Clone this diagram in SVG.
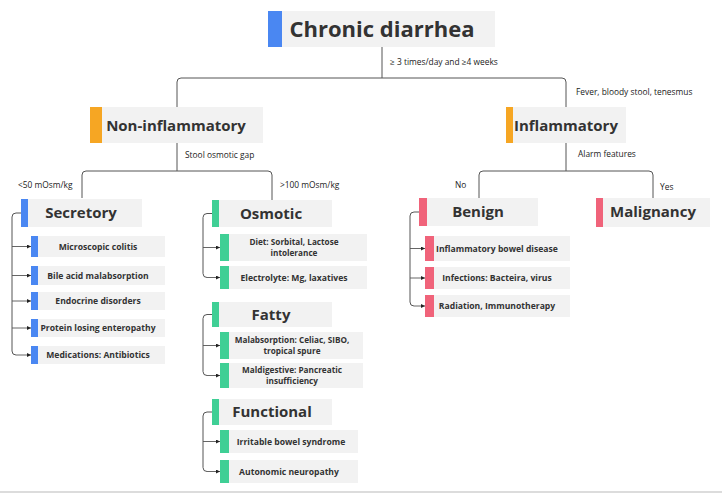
<svg xmlns="http://www.w3.org/2000/svg" width="722" height="493" viewBox="0 0 722 493">
<defs>
<style>
.box{fill:#f2f2f2}
.blue{fill:#4a87f2}
.orange{fill:#f6a623}
.green{fill:#3fcf95}
.pink{fill:#f0637a}
.t{font-family:"Open Sans","Noto Sans",sans-serif;font-weight:700;fill:#333;text-anchor:middle}
.h1{font-size:22px}
.h2{font-size:15px}
.h3{font-size:8.6px}
.h4{font-size:8.2px}
.lbl{font-family:"Open Sans","Noto Sans",sans-serif;font-size:8.4px;fill:#222}
.ln{fill:none;stroke:#555;stroke-width:1}
.ar{fill:none;stroke:#555;stroke-width:0.9;marker-end:url(#arr)}
</style>
<marker id="arr" viewBox="0 0 6 6" refX="6" refY="3" markerWidth="4" markerHeight="4" orient="auto" markerUnits="userSpaceOnUse">
<path d="M0,0 L6,3 L0,6 z" fill="#222"/>
</marker>
</defs>
<rect x="0" y="0" width="722" height="493" fill="#ffffff"/>
<rect x="0" y="491" width="722" height="2" fill="#dcdcdc"/>

<g id="connectors">
<path class="ln" d="M382,47 V78"/>
<path class="ln" d="M177,107 V82 Q177,78 181,78 H562 Q566,78 566,82 V107"/>
<path class="ln" d="M177,143 V171"/>
<path class="ln" d="M82,198 V175 Q82,171 86,171 H268 Q272,171 272,175 V200"/>
<path class="ln" d="M566,143 V171"/>
<path class="ln" d="M479,198 V175 Q479,171 483,171 H649 Q653,171 653,175 V198"/>
<!-- secretory -->
<path class="ln" d="M21,213 H16 Q12,213 12,217 V351 Q12,355 16,355"/>
<path class="ar" d="M12,246.5 H31"/>
<path class="ar" d="M12,275.5 H31"/>
<path class="ar" d="M12,301 H31"/>
<path class="ar" d="M12,328 H31"/>
<path class="ar" d="M16,355 H31"/>
<!-- osmotic -->
<path class="ln" d="M212,213.5 H207 Q203,213.5 203,217.5 V273.5 Q203,277.5 207,277.5"/>
<path class="ar" d="M203,247.5 H220"/>
<path class="ar" d="M207,277.5 H220"/>
<!-- fatty -->
<path class="ln" d="M212,314.5 H207 Q203,314.5 203,318.5 V371.5 Q203,375.5 207,375.5"/>
<path class="ar" d="M203,345.5 H220"/>
<path class="ar" d="M207,375.5 H220"/>
<!-- functional -->
<path class="ln" d="M212,412 H207 Q203,412 203,416 V467.5 Q203,471.5 207,471.5"/>
<path class="ar" d="M203,441.5 H220"/>
<path class="ar" d="M207,471.5 H220"/>
<!-- benign -->
<path class="ln" d="M419,212 H414 Q410,212 410,216 V302 Q410,306 414,306"/>
<path class="ar" d="M410,248.5 H425"/>
<path class="ar" d="M410,278 H425"/>
<path class="ar" d="M414,306 H425"/>
</g>

<g id="edge-labels">
<text class="lbl" x="390" y="65">≥ 3 times/day and ≥4 weeks</text>
<text class="lbl" x="576" y="95">Fever, bloody stool, tenesmus</text>
<text class="lbl" x="185" y="158">Stool osmotic gap</text>
<text class="lbl" x="578" y="157">Alarm features</text>
<text class="lbl" x="18" y="188">&lt;50 mOsm/kg</text>
<text class="lbl" x="280" y="188">&gt;100 mOsm/kg</text>
<text class="lbl" x="455" y="188">No</text>
<text class="lbl" x="660" y="190">Yes</text>
</g>

<g id="chronic-diarrhea">
<rect class="box" x="282" y="11" width="213" height="36"/>
<rect class="blue" x="268" y="11" width="14" height="36"/>
<text class="t h1" x="382" y="37">Chronic diarrhea</text>
</g>

<g id="non-inflammatory">
<rect class="box" x="102" y="107" width="161" height="36"/>
<rect class="orange" x="90" y="107" width="12" height="36"/>
<text class="t h2" x="176" y="131">Non-inflammatory</text>
</g>

<g id="inflammatory">
<rect class="box" x="513" y="107" width="113" height="36"/>
<rect class="orange" x="506" y="107" width="7" height="36"/>
<text class="t h2" x="566" y="131">Inflammatory</text>
</g>

<g id="secretory">
<rect class="box" x="28" y="199" width="114" height="28"/>
<rect class="blue" x="21" y="199" width="7" height="28"/>
<text class="t h2" x="81" y="218">Secretory</text>
</g>
<g id="microscopic-colitis">
<rect class="box" x="38" y="236" width="127" height="21"/>
<rect class="blue" x="31" y="236" width="7" height="21"/>
<text class="t h3" x="98" y="249.5">Microscopic colitis</text>
</g>
<g id="bile-acid">
<rect class="box" x="38" y="266" width="127" height="19"/>
<rect class="blue" x="31" y="266" width="7" height="19"/>
<text class="t h3" x="98" y="278.5">Bile acid malabsorption</text>
</g>
<g id="endocrine">
<rect class="box" x="38" y="292" width="127" height="18"/>
<rect class="blue" x="31" y="292" width="7" height="18"/>
<text class="t h3" x="98" y="304">Endocrine disorders</text>
</g>
<g id="protein-losing">
<rect class="box" x="38" y="319" width="127" height="18"/>
<rect class="blue" x="31" y="319" width="7" height="18"/>
<text class="t h3" x="98" y="331">Protein losing enteropathy</text>
</g>
<g id="medications">
<rect class="box" x="38" y="346" width="127" height="18"/>
<rect class="blue" x="31" y="346" width="7" height="18"/>
<text class="t h3" x="98" y="358">Medications: Antibiotics</text>
</g>

<g id="osmotic">
<rect class="box" x="219" y="200" width="113" height="27"/>
<rect class="green" x="212" y="200" width="7" height="27"/>
<text class="t h2" x="271" y="219">Osmotic</text>
</g>
<g id="diet">
<rect class="box" x="229" y="234" width="138" height="27"/>
<rect class="green" x="220" y="234" width="9" height="27"/>
<text class="t h4" x="294" y="245"><tspan x="294">Diet: Sorbital, Lactose</tspan><tspan x="294" dy="11.2">intolerance</tspan></text>
</g>
<g id="electrolyte">
<rect class="box" x="229" y="266" width="138" height="23"/>
<rect class="green" x="220" y="266" width="9" height="23"/>
<text class="t h3" x="294" y="280.5">Electrolyte: Mg, laxatives</text>
</g>

<g id="fatty">
<rect class="box" x="219" y="302" width="113" height="25"/>
<rect class="green" x="212" y="302" width="7" height="25"/>
<text class="t h2" x="271" y="320">Fatty</text>
</g>
<g id="malabsorption">
<rect class="box" x="229" y="332" width="134" height="27"/>
<rect class="green" x="220" y="332" width="9" height="27"/>
<text class="t h4" x="292" y="343"><tspan x="292">Malabsorption: Celiac, SIBO,</tspan><tspan x="292" dy="11.2">tropical spure</tspan></text>
</g>
<g id="maldigestive">
<rect class="box" x="229" y="363" width="134" height="25"/>
<rect class="green" x="220" y="363" width="9" height="25"/>
<text class="t h4" x="292" y="373"><tspan x="292">Maldigestive: Pancreatic</tspan><tspan x="292" dy="11.2">insufficiency</tspan></text>
</g>

<g id="functional">
<rect class="box" x="219" y="399" width="113" height="26"/>
<rect class="green" x="212" y="399" width="7" height="26"/>
<text class="t h2" x="272" y="417">Functional</text>
</g>
<g id="ibs">
<rect class="box" x="229" y="430" width="129" height="23"/>
<rect class="green" x="220" y="430" width="9" height="23"/>
<text class="t h3" x="291" y="444.5">Irritable bowel syndrome</text>
</g>
<g id="autonomic">
<rect class="box" x="229" y="460" width="129" height="23"/>
<rect class="green" x="220" y="460" width="9" height="23"/>
<text class="t h3" x="289" y="475">Autonomic neuropathy</text>
</g>

<g id="benign">
<rect class="box" x="427" y="198" width="111" height="28"/>
<rect class="pink" x="419" y="198" width="8" height="28"/>
<text class="t h2" x="478" y="217">Benign</text>
</g>
<g id="malignancy">
<rect class="box" x="603" y="198" width="107" height="29"/>
<rect class="pink" x="596" y="198" width="7" height="29"/>
<text class="t h2" x="653" y="217">Malignancy</text>
</g>
<g id="ibd">
<rect class="box" x="434" y="236" width="136" height="25"/>
<rect class="pink" x="425" y="236" width="9" height="25"/>
<text class="t h3" x="497" y="251.5">Inflammatory bowel disease</text>
</g>
<g id="infections">
<rect class="box" x="434" y="267" width="136" height="22"/>
<rect class="pink" x="425" y="267" width="9" height="22"/>
<text class="t h3" x="497" y="281">Infections: Bacteira, virus</text>
</g>
<g id="radiation">
<rect class="box" x="434" y="295" width="136" height="22"/>
<rect class="pink" x="425" y="295" width="9" height="22"/>
<text class="t h3" x="497" y="309">Radiation, Immunotherapy</text>
</g>
</svg>
